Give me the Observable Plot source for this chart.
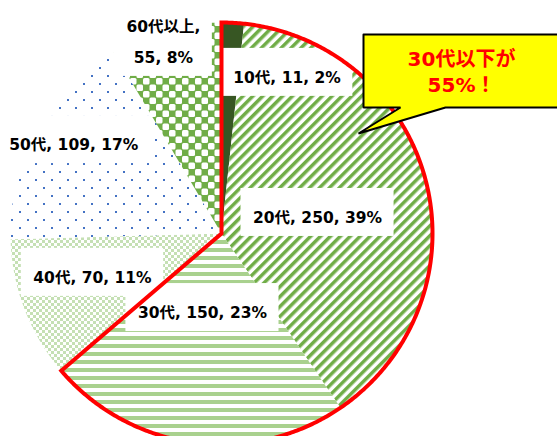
<!DOCTYPE html>
<html><head><meta charset="utf-8">
<script src="https://cdn.jsdelivr.net/npm/d3@7"></script>
<script src="https://cdn.jsdelivr.net/npm/@observablehq/plot@0.6"></script>
<style>html,body{margin:0;padding:0;background:#fff;} svg{display:block}</style>
</head><body><div id="chart"></div>
<script>
// ---- data ----
const categories = ["10代", "20代", "30代", "40代", "50代", "60代以上"];
const counts = [11, 250, 150, 70, 109, 55];
const percents = [2, 39, 23, 11, 17, 8];
const labelBreakAfterCategory = [false, false, false, false, false, true];
const highlightCount = 3; // 10代〜30代 (30代以下)
const calloutLines = ["30代以下が", "55%！"];

// ---- layout / style ----
const W = 557, H = 436, CX = 221, CY = 233, R = 211;
const fills = ["#375623", "url(#pDiag)", "url(#pHoriz)", "url(#pSmallCheck)", "url(#pDots)", "url(#pCheck)"];
// label placement: [angle offset (deg) from slice middle, radius fraction]
const labelPlace = [[19.2, 0.82], [2.3, 0.465], [6.7, 0.367], [3.9, 0.64], [3.3, 0.827], [-1.2, 0.967]];
const FONT = '"DejaVu Sans", "Noto Sans CJK JP", sans-serif';
const LABEL_SIZE = 15.5, LABEL_LH = 2.0;
// callout polygon (pixel layout) and text anchor
const calloutPx = [[363, 34], [570, 34], [570, 107], [445, 107], [358, 133], [400, 107], [363, 107], [363, 34]];
const calloutTextPx = [461, 70];

const toU = ([px, py]) => [px - CX, CY - py];
const pt = (ang, r) => [r * Math.sin(ang), r * Math.cos(ang)];
const arcPts = (a0, a1, r) => {
  const n = Math.max(2, Math.ceil((a1 - a0) / (Math.PI / 360)));
  return d3.range(n + 1).map(k => pt(a0 + (a1 - a0) * k / n, r));
};

const arcs = d3.pie().sort(null).value(d => d)(counts);

const sliceMarks = arcs.map((a, i) => {
  const pts = [[0, 0], ...arcPts(a.startAngle, a.endAngle, R), [0, 0]];
  return Plot.line(pts, {x: d => d[0], y: d => d[1], fill: fills[i], stroke: "none"});
});

// labels
const canvas = document.createElement("canvas");
const ctx = canvas.getContext("2d");
ctx.font = `bold ${LABEL_SIZE}px ${FONT}`;
const labels = arcs.map((a, i) => {
  const text = labelBreakAfterCategory[i]
    ? `${categories[i]},\n${counts[i]}, ${percents[i]}%`
    : `${categories[i]}, ${counts[i]}, ${percents[i]}%`;
  const mid = (a.startAngle + a.endAngle) / 2 + labelPlace[i][0] * Math.PI / 180;
  const [x, y] = pt(mid, labelPlace[i][1] * R);
  const lines = text.split("\n");
  const w = d3.max(lines, l => ctx.measureText(l).width);
  const blockH = (lines.length - 1) * LABEL_SIZE * LABEL_LH;
  return {text, x, y, x1: x - w / 2 - 12, x2: x + w / 2 + 12, y1: y - blockH / 2 - 23, y2: y + blockH / 2 + 25};
});

// highlight outline (10代〜30代)
const hiEnd = arcs[highlightCount - 1].endAngle;
const hiMid = hiEnd / 2;
const outline = [...arcPts(hiMid, hiEnd, R), [0, 0], ...arcPts(0, hiMid, R)];

const calloutPts = calloutPx.map(toU);
const [ctx0, cty0] = toU(calloutTextPx);

const svg = Plot.plot({
  width: W, height: H, margin: 0,
  x: {domain: [-CX, W - CX], axis: null},
  y: {domain: [CY - H, CY], axis: null},
  marks: [
    ...sliceMarks,
    Plot.rect(labels, {x1: "x1", x2: "x2", y1: "y1", y2: "y2", fill: "white"}),
    Plot.line(outline, {x: d => d[0], y: d => d[1], stroke: "#FF0000", strokeWidth: 4, strokeLinejoin: "miter", strokeMiterlimit: 10, fill: "none"}),
    Plot.text(labels, {x: "x", y: "y", text: "text", fontSize: LABEL_SIZE, fontWeight: "bold", fontFamily: FONT, lineHeight: LABEL_LH, fill: "#000", lineAnchor: "middle"}),
    Plot.line(calloutPts, {x: d => d[0], y: d => d[1], fill: "#FFFF00", stroke: "#000", strokeWidth: 2, strokeLinejoin: "miter"}),
    Plot.text([calloutLines.join("\n")], {x: () => ctx0, y: () => cty0, text: d => d, fontSize: 20, fontWeight: "bold", fontFamily: FONT, lineHeight: 1.3, fill: "#FF0000", lineAnchor: "middle"})
  ]
});

// patterns (shifted by -0.5 to cancel Plot's half-pixel offset for crisp texture)
const defs = d3.select(svg).insert("defs", ":first-child");
const pat = (id, w, h, extra) => {
  return defs.append("pattern").attr("id", id).attr("patternUnits", "userSpaceOnUse")
    .attr("width", w).attr("height", h)
    .attr("patternTransform", "translate(-0.5,-0.5)" + (extra ? " " + extra : ""));
};
let p = pat("pDiag", 7, 7, "rotate(45)");
p.append("rect").attr("width", 7).attr("height", 7).attr("fill", "#fff");
p.append("rect").attr("width", 3.5).attr("height", 7).attr("fill", "#70AD47");
p = pat("pHoriz", 8, 8);
p.append("rect").attr("width", 8).attr("height", 8).attr("fill", "#fff");
p.append("rect").attr("width", 8).attr("height", 4).attr("fill", "#A9D18E");
p = pat("pSmallCheck", 6, 6);
p.append("rect").attr("width", 6).attr("height", 6).attr("fill", "#fff");
p.append("rect").attr("width", 3).attr("height", 3).attr("fill", "#C5E0B4");
p.append("rect").attr("x", 3).attr("y", 3).attr("width", 3).attr("height", 3).attr("fill", "#C5E0B4");
p = pat("pDots", 16, 16);
p.append("rect").attr("width", 16).attr("height", 16).attr("fill", "#fff");
p.append("rect").attr("x", 3).attr("y", 3).attr("width", 2).attr("height", 2).attr("fill", "#4472C4");
p.append("rect").attr("x", 11).attr("y", 11).attr("width", 2).attr("height", 2).attr("fill", "#4472C4");
p = pat("pCheck", 13, 13);
p.append("rect").attr("width", 13).attr("height", 13).attr("fill", "#70AD47");
p.append("rect").attr("width", 6.5).attr("height", 6.5).attr("rx", 1.5).attr("fill", "#fff");
p.append("rect").attr("x", 6.5).attr("y", 6.5).attr("width", 6.5).attr("height", 6.5).attr("rx", 1.5).attr("fill", "#fff");

document.getElementById("chart").appendChild(svg);
</script>
</body></html>
